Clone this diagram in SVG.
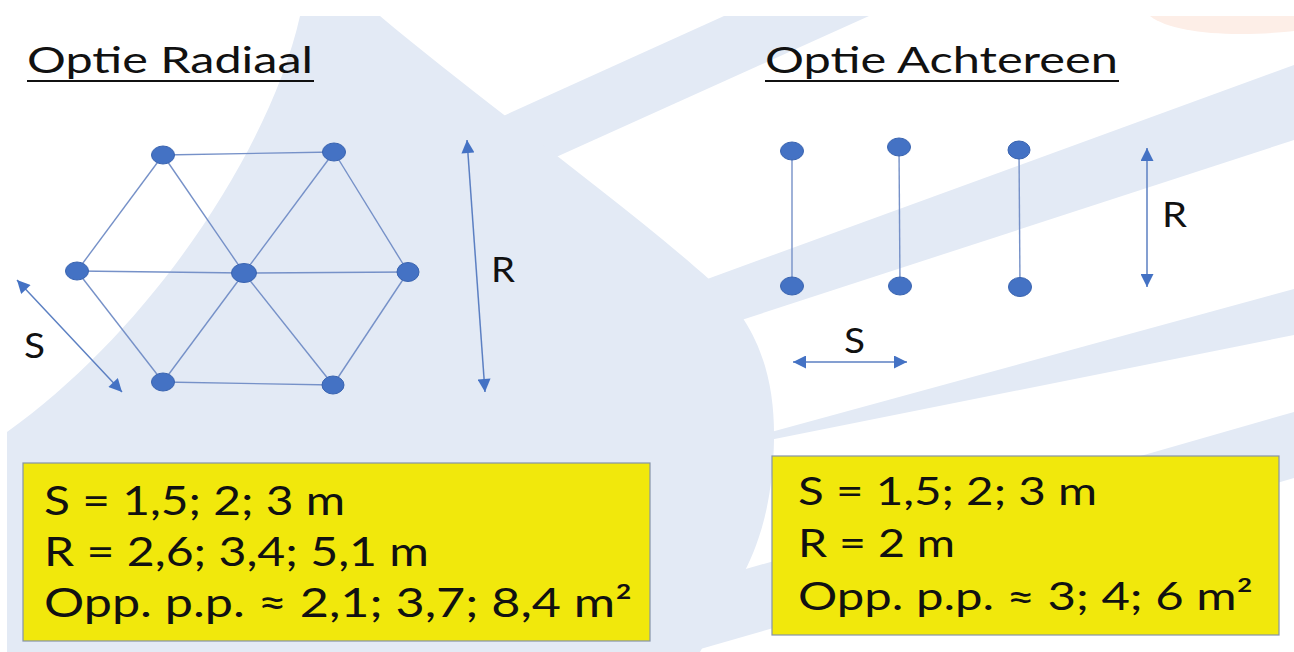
<svg xmlns="http://www.w3.org/2000/svg" width="1294" height="652" viewBox="0 0 1294 652">
  <defs>
    <marker id="ah" viewBox="0 0 10 10" refX="10" refY="5" markerWidth="15" markerHeight="13" markerUnits="userSpaceOnUse" orient="auto-start-reverse">
      <path d="M0,0 L10,5 L0,10 Z" fill="#4472c4"/>
    </marker>
  </defs>
  <style>
    .bg { fill: #e3eaf5; }
    .node { fill: #4472c4; stroke: #3a64b0; stroke-width: 1; }
    .edge { stroke: #7691c8; stroke-width: 1.4; fill: none; }
    .dim { stroke: #5b7fc2; stroke-width: 1.5; fill: none; marker-start: url(#ah); marker-end: url(#ah); }
    .title { font-family: Lato, "Liberation Sans", sans-serif; font-weight: 400; font-size: 36px; fill: #111; }
    .lbl { font-family: Lato, "Liberation Sans", sans-serif; font-weight: 400; font-size: 35px; fill: #111; }
    .box { fill: #f1e80c; stroke: #8593a8; stroke-width: 1.2; }
    .boxtxt { font-family: Lato, "Liberation Sans", sans-serif; fill: #111; }
  </style>

  <!-- background -->
  <rect width="1294" height="652" fill="#ffffff"/>
  <g id="background">
    <path d="M1150,16 C1165,28 1200,34 1240,34 C1265,34 1285,32 1294,31 L1294,16 Z" fill="#fdeee7"/>
    <polygon class="bg" points="470,131 724,16 869,16 470,196"/>
    <polygon class="bg" points="680,289 1294,65 1294,140 680,340"/>
    <polygon class="bg" points="760,435 1294,289 1294,335 760,442"/>
    <polygon class="bg" points="690,585 1294,412 1294,478 690,652"/>
    <path class="bg" d="M300,16 L380,16 C480,100 620,200 710,280 C760,325 775,380 774,440 C773,500 760,545 740,580 L700,652 L7,652 L7,432 C150,330 270,150 300,16 Z"/>
  </g>

  <!-- titles -->
  <g id="title-radiaal">
    <text class="title" x="27" y="73" textLength="286" lengthAdjust="spacingAndGlyphs">Optie Radiaal</text>
    <line x1="27" y1="81" x2="314" y2="81" stroke="#111" stroke-width="2"/>
  </g>
  <g id="title-achtereen">
    <text class="title" x="765" y="73" textLength="353" lengthAdjust="spacingAndGlyphs">Optie Achtereen</text>
    <line x1="765" y1="81" x2="1119" y2="81" stroke="#111" stroke-width="2"/>
  </g>

  <!-- connectors -->
  <g id="connectors">
    <line class="edge" x1="163" y1="155" x2="334" y2="152"/>
    <line class="edge" x1="163" y1="155" x2="77" y2="271"/>
    <line class="edge" x1="163" y1="155" x2="244" y2="273"/>
    <line class="edge" x1="334" y1="152" x2="244" y2="273"/>
    <line class="edge" x1="334" y1="152" x2="408" y2="272"/>
    <line class="edge" x1="77" y1="271" x2="244" y2="273"/>
    <line class="edge" x1="244" y1="273" x2="408" y2="272"/>
    <line class="edge" x1="77" y1="271" x2="163" y2="382"/>
    <line class="edge" x1="244" y1="273" x2="163" y2="382"/>
    <line class="edge" x1="244" y1="273" x2="333" y2="385"/>
    <line class="edge" x1="408" y1="272" x2="333" y2="385"/>
    <line class="edge" x1="163" y1="382" x2="333" y2="385"/>
    <line class="edge" x1="792" y1="151" x2="792" y2="286"/>
    <line class="edge" x1="899" y1="147" x2="900" y2="286"/>
    <line class="edge" x1="1019" y1="150" x2="1020" y2="287"/>
  </g>

  <!-- dimension arrows -->
  <g id="dimensions">
    <line class="dim" x1="17" y1="280" x2="122" y2="392"/>
    <line class="dim" x1="467" y1="140" x2="485" y2="392"/>
    <line class="dim" x1="1147" y1="148" x2="1147" y2="287"/>
    <line class="dim" x1="793" y1="362" x2="907" y2="362"/>
    <text class="lbl" x="24" y="358" textLength="21" lengthAdjust="spacingAndGlyphs">S</text>
    <text class="lbl" x="491" y="282" textLength="24" lengthAdjust="spacingAndGlyphs">R</text>
    <text class="lbl" x="1162" y="227" textLength="25" lengthAdjust="spacingAndGlyphs">R</text>
    <text class="lbl" x="844" y="353" textLength="21" lengthAdjust="spacingAndGlyphs">S</text>
  </g>

  <!-- nodes: radial -->
  <g id="node-r-tl"><ellipse class="node" cx="163" cy="155" rx="11.5" ry="9"/></g>
  <g id="node-r-tr"><ellipse class="node" cx="334" cy="152" rx="11.5" ry="9"/></g>
  <g id="node-r-ml"><ellipse class="node" cx="77" cy="271" rx="11.5" ry="9"/></g>
  <g id="node-r-c"><ellipse class="node" cx="244" cy="273" rx="12.5" ry="9.5"/></g>
  <g id="node-r-mr"><ellipse class="node" cx="408" cy="272" rx="11" ry="9.5"/></g>
  <g id="node-r-bl"><ellipse class="node" cx="163" cy="382" rx="11.5" ry="9"/></g>
  <g id="node-r-br"><ellipse class="node" cx="333" cy="385" rx="11" ry="9"/></g>

  <!-- nodes: achtereen -->
  <g id="node-a-1t"><ellipse class="node" cx="792" cy="151" rx="11.5" ry="9"/></g>
  <g id="node-a-1b"><ellipse class="node" cx="792" cy="286" rx="11.5" ry="9"/></g>
  <g id="node-a-2t"><ellipse class="node" cx="899" cy="147" rx="11.5" ry="9"/></g>
  <g id="node-a-2b"><ellipse class="node" cx="900" cy="286" rx="11.5" ry="9"/></g>
  <g id="node-a-3t"><ellipse class="node" cx="1019" cy="150" rx="11" ry="9"/></g>
  <g id="node-a-3b"><ellipse class="node" cx="1020" cy="287" rx="11.5" ry="9.5"/></g>

  <!-- info boxes -->
  <g id="box-radiaal">
    <rect class="box" x="23" y="463" width="627" height="178"/>
    <text class="boxtxt" font-size="40" x="44" y="515" textLength="301" lengthAdjust="spacingAndGlyphs">S = 1,5; 2; 3 m</text>
    <text class="boxtxt" font-size="40" x="44" y="566" textLength="385" lengthAdjust="spacingAndGlyphs">R = 2,6; 3,4; 5,1 m</text>
    <text class="boxtxt" font-size="40" x="44" y="617" textLength="588" lengthAdjust="spacingAndGlyphs">Opp. p.p. ≈ 2,1; 3,7; 8,4 m²</text>
  </g>
  <g id="box-achtereen">
    <rect class="box" x="772" y="456" width="507" height="179"/>
    <text class="boxtxt" font-size="38" x="798" y="505" textLength="299" lengthAdjust="spacingAndGlyphs">S = 1,5; 2; 3 m</text>
    <text class="boxtxt" font-size="38" x="798" y="557" textLength="157" lengthAdjust="spacingAndGlyphs">R = 2 m</text>
    <text class="boxtxt" font-size="38" x="798" y="610" textLength="455" lengthAdjust="spacingAndGlyphs">Opp. p.p. ≈ 3; 4; 6 m²</text>
  </g>
</svg>
